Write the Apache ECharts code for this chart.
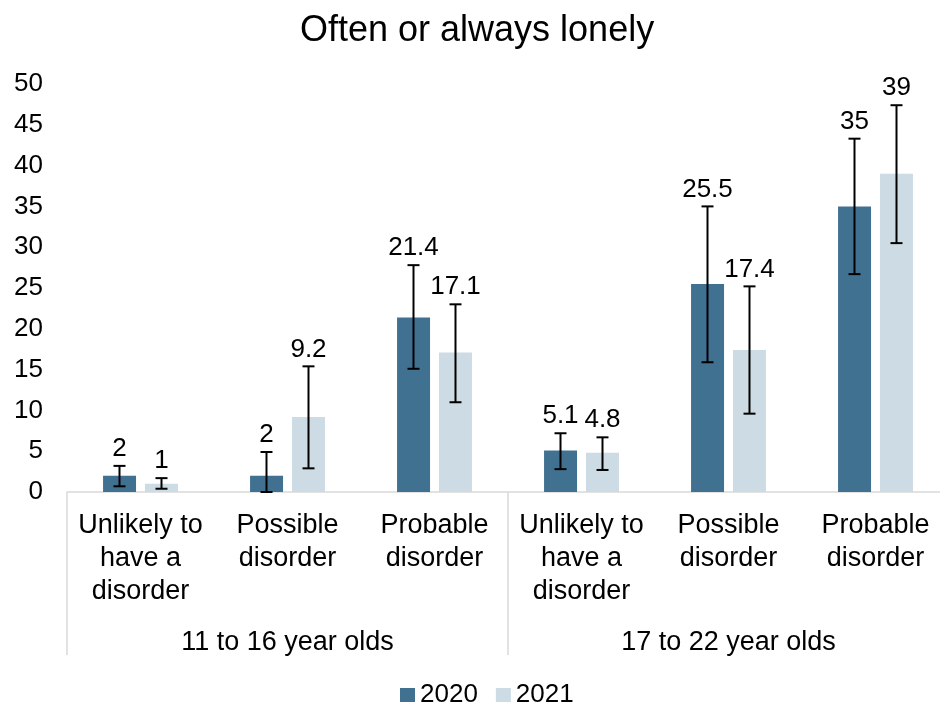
<!DOCTYPE html>
<html>
<head>
<meta charset="utf-8">
<script src="https://cdn.jsdelivr.net/npm/echarts@6/dist/echarts.min.js"></script>
<style>
html,body{margin:0;padding:0;background:#fff;}
#chart{width:940px;height:704px;}
</style>
</head>
<body>
<div id="chart"></div>
<script>
// categories
var categories = ['Unlikely to\nhave a\ndisorder', 'Possible\ndisorder', 'Probable\ndisorder',
	'Unlikely to\nhave a\ndisorder', 'Possible\ndisorder', 'Probable\ndisorder'];
var groups = ['11 to 16 year olds', '17 to 22 year olds'];
// values
var values2020 = [2, 2, 21.4, 5.1, 25.5, 35];
var values2021 = [1, 9.2, 17.1, 4.8, 17.4, 39];
// confidence intervals
var low2020 = [0.7, 0, 15.1, 2.8, 15.9, 26.7];
var high2020 = [3.2, 4.9, 27.8, 7.2, 35.0, 43.3];
var low2021 = [0.4, 2.9, 11.0, 2.7, 9.6, 30.5];
var high2021 = [1.7, 15.4, 23.0, 6.7, 25.2, 47.4];

var FONT = '"Liberation Sans", Arial, sans-serif';
var color2020 = '#417191';
var color2021 = '#cddbe4';

var myChart = echarts.init(document.getElementById('chart'));

//误差线 + 数值标签
function errorRender(shift)
{
	return function(params, api)
	{
		var idx = api.value(0);
		var lo = api.coord([idx, api.value(1)]);
		var hi = api.coord([idx, api.value(2)]);
		var x = lo[0] + shift;
		var cap = 6;
		var style = {stroke: '#000', lineWidth: 2};
		return {
			type: 'group',
			children: [
				{type: 'line', shape: {x1: x, y1: lo[1], x2: x, y2: hi[1]}, style: style},
				{type: 'line', shape: {x1: x - cap, y1: lo[1], x2: x + cap, y2: lo[1]}, style: style},
				{type: 'line', shape: {x1: x - cap, y1: hi[1], x2: x + cap, y2: hi[1]}, style: style},
				{type: 'text', style: {
					text: String(api.value(3)), x: x, y: hi[1] - 4,
					textAlign: 'center', textVerticalAlign: 'bottom',
					font: '26px ' + FONT, fill: '#000'
				}}
			]
		};
	};
}

function errData(lows, highs, vals)
{
	var d = [];
	for(var i=0;i<vals.length;i++)
	{
		d.push([i, lows[i], highs[i], vals[i]]);
	}
	return d;
}

var option = {
	backgroundColor: '#fff',
	textStyle: {fontFamily: FONT},
	title: {
		text: 'Often or always lonely',
		left: 295,
		top: 8,
		textStyle: {fontSize: 36, fontWeight: 'normal', color: '#000', fontFamily: FONT}
	},
	legend: {
		data: ['2020', '2021'],
		left: 395,
		top: 677,
		itemWidth: 15,
		itemHeight: 14,
		itemGap: 18,
		icon: 'rect',
		textStyle: {fontSize: 26, color: '#000', fontFamily: FONT}
	},
	grid: {left: 67, width: 882, top: 84, bottom: 212, containLabel: false, outerBoundsMode: 'none'},
	xAxis: [
		{
			type: 'category',
			data: categories,
			axisLine: {show: true, lineStyle: {color: '#d9d9d9', width: 1.5}},
			axisTick: {show: false},
			axisLabel: {fontSize: 27, lineHeight: 33, color: '#000', margin: 17, interval: 0, fontFamily: FONT}
		},
		{
			type: 'category',
			data: groups,
			position: 'bottom',
			axisLine: {show: false},
			axisTick: {show: true, length: 163, lineStyle: {color: '#d9d9d9', width: 1.5}},
			axisLabel: {fontSize: 27, color: '#000', margin: 137, interval: 0, fontFamily: FONT},
			splitLine: {show: false}
		}
	],
	yAxis: {
		type: 'value',
		min: 0,
		max: 50,
		interval: 5,
		axisLine: {show: false},
		axisTick: {show: false},
		splitLine: {show: false},
		axisLabel: {fontSize: 26, color: '#000', margin: 24, fontFamily: FONT}
	},
	series: [
		{
			name: '2020', type: 'bar', data: values2020,
			barWidth: 33, barGap: '27%',
			itemStyle: {color: color2020}
		},
		{
			name: '2021', type: 'bar', data: values2021,
			barWidth: 33, barGap: '27%',
			itemStyle: {color: color2021}
		},
		{
			type: 'custom', name: 'err2020', z: 5,
			renderItem: errorRender(-21),
			encode: {x: 0, y: [1, 2]},
			data: errData(low2020, high2020, values2020)
		},
		{
			type: 'custom', name: 'err2021', z: 5,
			renderItem: errorRender(21),
			encode: {x: 0, y: [1, 2]},
			data: errData(low2021, high2021, values2021)
		}
	]
};
myChart.setOption(option);
</script>
</body>
</html>
